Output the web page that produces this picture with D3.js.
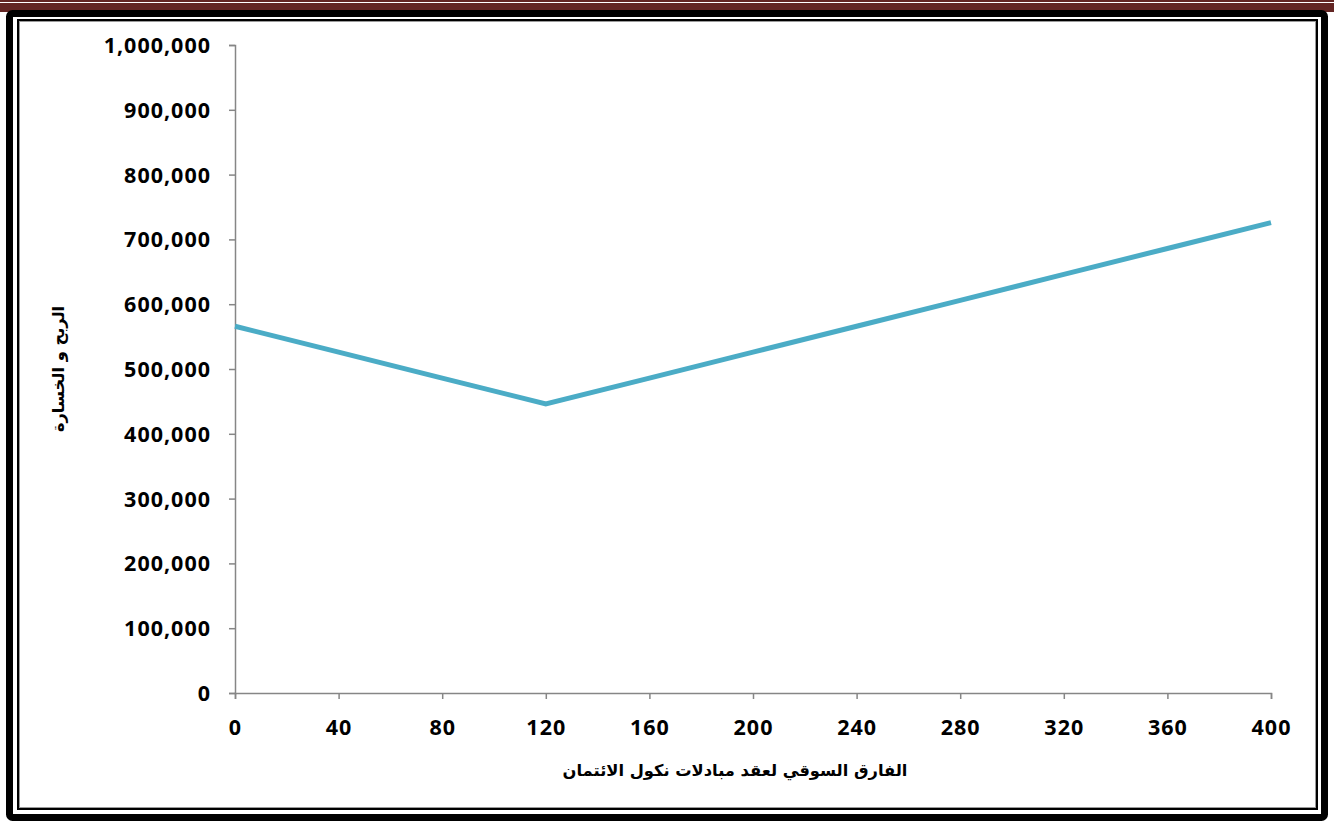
<!DOCTYPE html>
<html>
<head>
<meta charset="utf-8">
<script src="https://cdn.jsdelivr.net/npm/d3@7"></script>
<style>
  html, body { margin: 0; padding: 0; background: #fff; }
  svg { display: block; }
  .tick text { font-family: "Open Sans", Lato, sans-serif; font-weight: 700; font-size: 21.5px; letter-spacing: 1px; fill: #000; }
  .axis-title { font-family: "DejaVu Sans", "Noto Sans", sans-serif; font-weight: 700; font-size: 16.3px; fill: #000; }
</style>
</head>
<body>
<svg id="chart" width="1334" height="821"></svg>
<script>
// Spread of the CDS contract (basis points) and the resulting profit / loss
const spreads = [0, 40, 80, 120, 160, 200, 240, 280, 320, 360, 400];
const profitLoss = [566000, 526000, 486000, 446000, 486000, 526000, 566000, 606000, 646000, 686000, 726000];
const xTicks = [0, 40, 80, 120, 160, 200, 240, 280, 320, 360, 400];
const yTicks = [0, 100000, 200000, 300000, 400000, 500000, 600000, 700000, 800000, 900000, 1000000];
const xTitle = "الفارق السوقي لعقد مبادلات نكول الائتمان";
const yTitle = "الربح و الخسارة";

const svg = d3.select("#chart");

// Page decoration: dark red band on top, double black frame
svg.append("rect").attr("x", 0).attr("y", 0).attr("width", 1334).attr("height", 12).attr("fill", "#632523");
svg.append("rect").attr("x", 0).attr("y", 2).attr("width", 1334).attr("height", 1).attr("fill", "#fff");
svg.append("rect").attr("x", 9.5).attr("y", 13.5).attr("width", 1315).attr("height", 804)
  .attr("rx", 3).attr("fill", "none").attr("stroke", "#000").attr("stroke-width", 7);
svg.append("rect").attr("x", 18).attr("y", 20).attr("width", 1299).attr("height", 789)
  .attr("fill", "none").attr("stroke", "#000").attr("stroke-width", 2);
svg.append("rect").attr("x", 19.5).attr("y", 21.5).attr("width", 1296).attr("height", 786)
  .attr("fill", "none").attr("stroke", "#9a9a9a").attr("stroke-width", 1);

const plotLeft = 235, plotRight = 1271, plotTop = 45, plotBottom = 693;
const x = d3.scaleLinear().domain([0, 400]).range([plotLeft, plotRight]);
const y = d3.scaleLinear().domain([0, 1000000]).range([plotBottom, plotTop]);

const axisColor = "#868686";

const yAxis = svg.append("g").attr("transform", `translate(${plotLeft},0)`)
  .call(d3.axisLeft(y).tickValues(yTicks).tickSize(6).tickPadding(18).tickFormat(d3.format(",")));
const xAxis = svg.append("g").attr("transform", `translate(0,${plotBottom})`)
  .call(d3.axisBottom(x).tickValues(xTicks).tickSize(6).tickPadding(21).tickFormat(d3.format("d")));

[xAxis, yAxis].forEach(g => {
  g.select(".domain").attr("stroke", axisColor).attr("stroke-width", 1.5);
  g.selectAll(".tick line").attr("stroke", axisColor).attr("stroke-width", 1.5);
});
yAxis.selectAll(".tick text").attr("dy", "0.35em");

// Profit / loss line
const line = d3.line().x((d, i) => x(spreads[i])).y(d => y(d));
svg.append("path").datum(profitLoss)
  .attr("d", line)
  .attr("fill", "none")
  .attr("stroke", "#4bacc6")
  .attr("stroke-width", 5)
  .attr("stroke-linejoin", "miter");

// Axis titles
svg.append("text").attr("class", "axis-title")
  .attr("x", 735).attr("y", 776)
  .attr("text-anchor", "middle").attr("direction", "rtl")
  .text(xTitle);
svg.append("text").attr("class", "axis-title")
  .attr("transform", `translate(64,369) rotate(-90)`)
  .attr("text-anchor", "middle").attr("direction", "rtl")
  .text(yTitle);
</script>
</body>
</html>
